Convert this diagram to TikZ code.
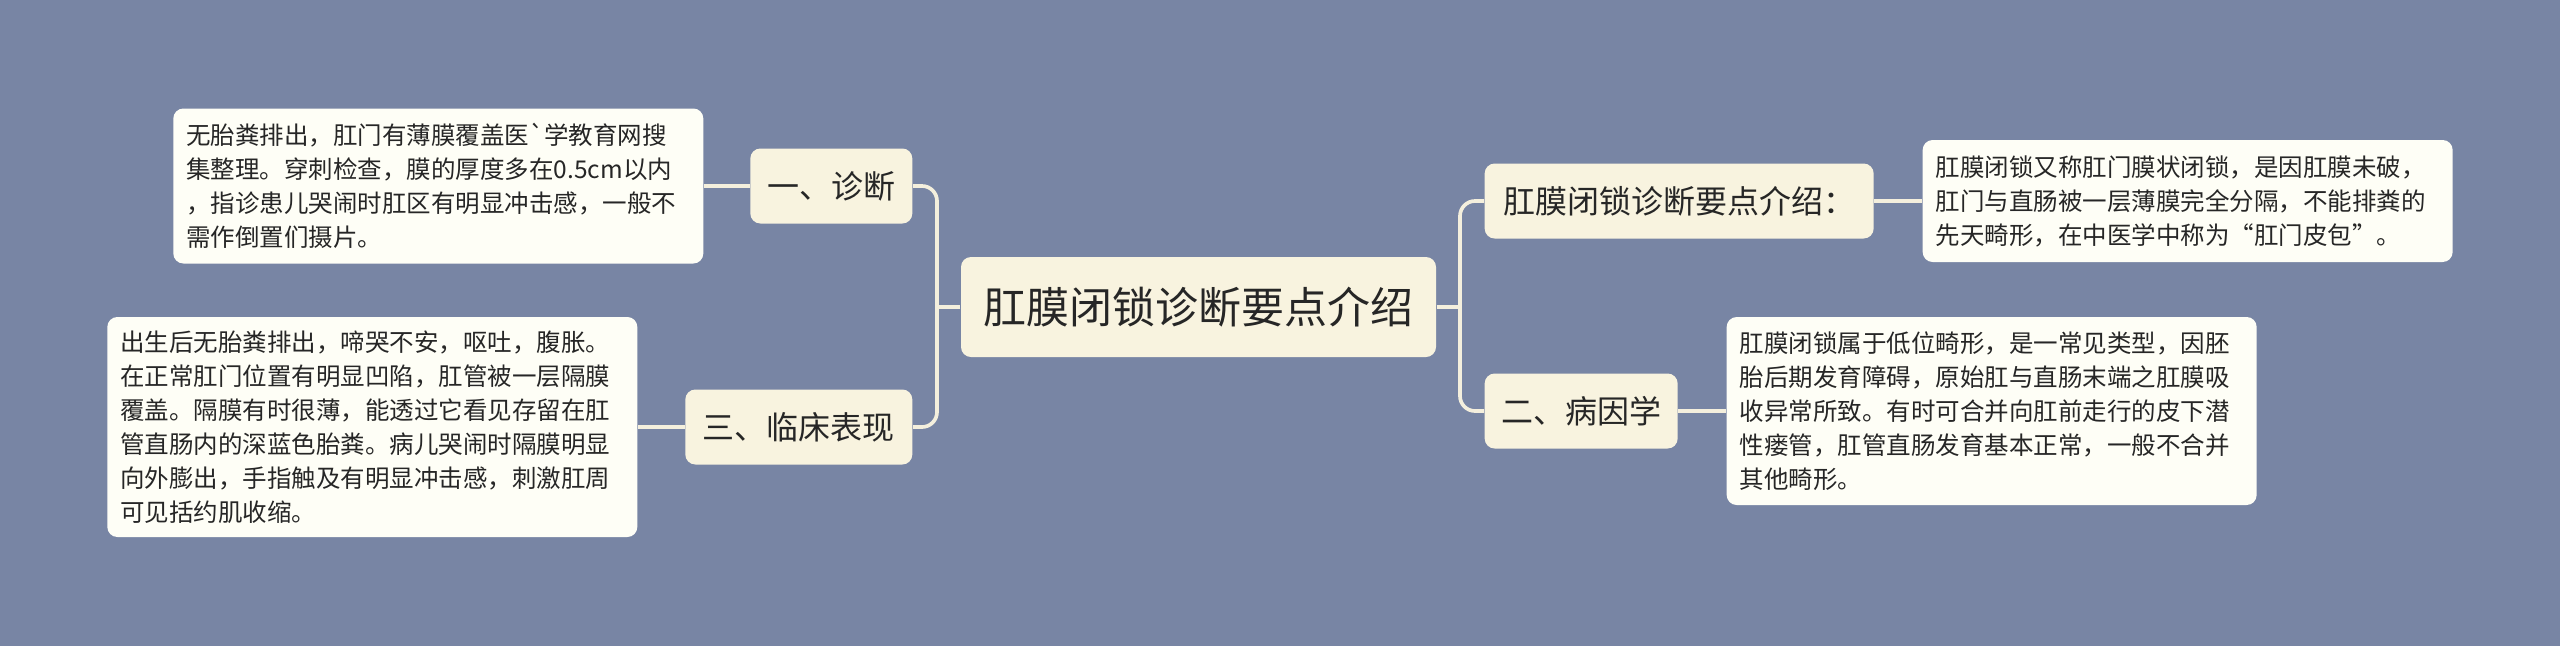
\documentclass[tikz,border=0pt]{standalone}
\usepackage{fontspec}
\setmainfont{Noto Sans CJK SC}
\newfontfamily\cjkplain{Noto Sans CJK SC}
\definecolor{bgc}{HTML}{7885A4}
\definecolor{rootfill}{HTML}{F8F3DF}
\definecolor{leaffill}{HTML}{FEFEF6}
\definecolor{linec}{HTML}{F4EFDD}
\definecolor{txt}{HTML}{262626}
\begin{document}
\begin{tikzpicture}[x=0.3pt,y=-0.3pt,
  conn/.style={draw=linec, line width=1.1pt, rounded corners=4.5pt},
  topicbox/.style={fill=rootfill, rounded corners=3pt, inner sep=0pt, text=txt, align=center, font=\cjkplain\fontsize{9.6pt}{11pt}\selectfont},
  rootbox/.style={topicbox, font=\cjkplain\fontsize{12.9pt}{15pt}\selectfont},
  leafbox/.style={fill=leaffill, rounded corners=3pt, inner xsep=3.9pt, inner ysep=0pt, text width=151.2pt, align=left, text=txt, font=\cjkplain\fontsize{7.35pt}{10.2pt}\selectfont, minimum width=159pt}]
\fill[bgc] (0,0) rectangle (2560,646);
\useasboundingbox (0,0) rectangle (2560,646);

% root
\node[rootbox, minimum width=142.5pt, minimum height=30pt] (root) at (1198.5,307) {肛膜闭锁诊断要点介绍};

% left branches
\node[topicbox, anchor=east, minimum width=48.6pt, minimum height=22.5pt] (diag) at (913,186) {一、诊断};
\node[topicbox, anchor=east, minimum width=68.1pt, minimum height=22.5pt] (clin) at (913,427) {三、临床表现};

% right branches
\node[topicbox, anchor=west, minimum width=116.7pt, minimum height=22.5pt] (intro) at (1484,201) {肛膜闭锁诊断要点介绍：};
\node[topicbox, anchor=west, minimum width=57.9pt, minimum height=22.5pt] (cause) at (1484,411) {二、病因学};

% leaves
\node[leafbox, anchor=east, minimum height=46.5pt] (leafa) at (704,186) {无胎粪排出，肛门有薄膜覆盖医`学教育网搜\\集整理。穿刺检查，膜的厚度多在0.5cm以内\\，指诊患儿哭闹时肛区有明显冲击感，一般不\\需作倒置们摄片。};
\node[leafbox, anchor=east, minimum height=66pt] (leafb) at (638,427) {出生后无胎粪排出，啼哭不安，呕吐，腹胀。\\在正常肛门位置有明显凹陷，肛管被一层隔膜\\覆盖。隔膜有时很薄，能透过它看见存留在肛\\管直肠内的深蓝色胎粪。病儿哭闹时隔膜明显\\向外膨出，手指触及有明显冲击感，刺激肛周\\可见括约肌收缩。};
\node[leafbox, anchor=west, minimum height=36.6pt] (leafc) at (1922,201) {肛膜闭锁又称肛门膜状闭锁，是因肛膜未破，\\肛门与直肠被一层薄膜完全分隔，不能排粪的\\先天畸形，在中医学中称为“肛门皮包”。};
\node[leafbox, anchor=west, minimum height=56.4pt] (leafd) at (1726,411) {肛膜闭锁属于低位畸形，是一常见类型，因胚\\胎后期发育障碍，原始肛与直肠末端之肛膜吸\\收异常所致。有时可合并向肛前走行的皮下潜\\性瘘管，肛管直肠发育基本正常，一般不合并\\其他畸形。};

% junctions
\coordinate (jl) at (937,307);
\coordinate (jr) at (1460,307);

% connectors
\draw[conn] (root.west) -- (jl);
\draw[conn] (jl) |- (diag.east);
\draw[conn] (jl) |- (clin.east);
\draw[conn] (root.east) -- (jr);
\draw[conn] (jr) |- (intro.west);
\draw[conn] (jr) |- (cause.west);
\draw[conn] (diag.west) -- (leafa.east);
\draw[conn] (clin.west) -- (leafb.east);
\draw[conn] (intro.east) -- (leafc.west);
\draw[conn] (cause.east) -- (leafd.west);
\end{tikzpicture}
\end{document}
